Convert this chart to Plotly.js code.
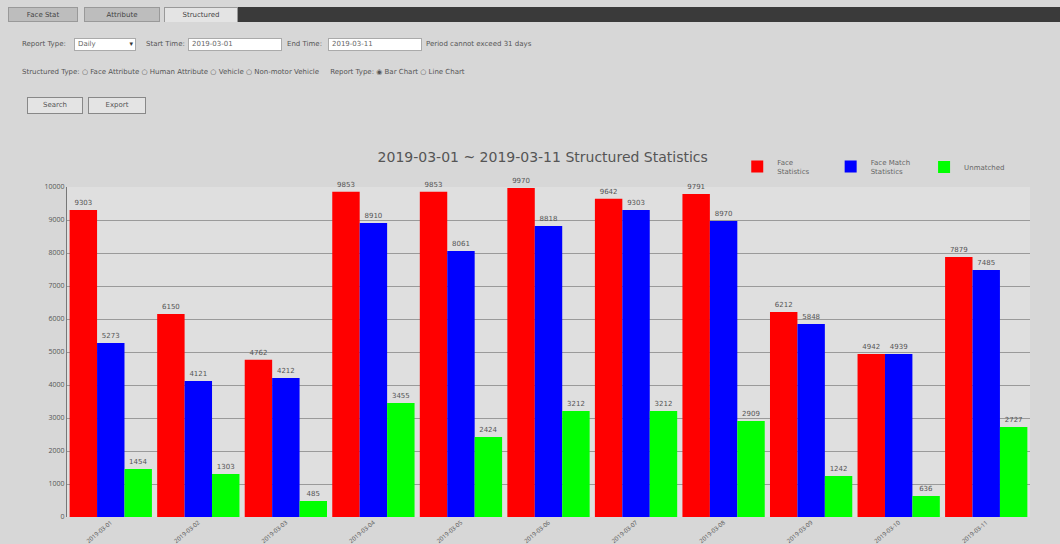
<!DOCTYPE html>
<html><head><meta charset="utf-8">
<script src="https://cdn.plot.ly/plotly-3.0.1.min.js"></script>
<style>
html,body{margin:0;padding:0;background:#d7d7d7;width:1060px;height:544px;overflow:hidden;font-family:"DejaVu Sans",Arial,sans-serif;}
#chart{position:absolute;left:0;top:0;width:1060px;height:544px;}
.ui{position:absolute;font-size:7px;color:#555;white-space:nowrap;z-index:5;}
.tab{position:absolute;top:7px;height:15px;background:#bdbdbd;border:1px solid #999;font-size:7px;color:#444;text-align:center;line-height:15px;z-index:5;box-sizing:border-box;}
.box{position:absolute;background:#fff;border:1px solid #aaa;height:13px;box-sizing:border-box;font-size:7px;color:#666;line-height:11px;padding-left:3px;z-index:5;}
.btn{position:absolute;top:97px;height:17px;background:#e4e4e4;border:1px solid #888;box-sizing:border-box;font-size:7px;color:#555;text-align:center;line-height:15px;z-index:5;}
</style></head>
<body>
<div id="chart"></div>
<div style="position:absolute;left:238px;top:7px;width:822px;height:15px;background:#3a3a3a;z-index:5"></div>
<div class="tab" style="left:8px;width:70px;">Face Stat</div>
<div class="tab" style="left:84px;width:76px;">Attribute</div>
<div class="tab" style="left:164px;width:74px;background:#e4e4e4;border-bottom:none">Structured</div>
<div class="ui" style="left:22px;top:40px;">Report Type:</div>
<div class="box" style="left:74px;top:38px;width:62px;">Daily<span style="position:absolute;right:2px;top:0;font-size:7px;color:#333">&#9662;</span></div>
<div class="ui" style="left:146px;top:40px;">Start Time:</div>
<div class="box" style="left:188px;top:38px;width:94px;">2019-03-01</div>
<div class="ui" style="left:287px;top:40px;">End Time:</div>
<div class="box" style="left:328px;top:38px;width:94px;">2019-03-11</div>
<div class="ui" style="left:426px;top:40px;">Period cannot exceed 31 days</div>
<div class="ui" style="left:22px;top:68px;">Structured Type: &#9675; Face Attribute &#9675; Human Attribute &#9675; Vehicle &#9675; Non-motor Vehicle &nbsp;&nbsp;&nbsp; Report Type: &#9673; Bar Chart &#9675; Line Chart</div>
<div class="btn" style="left:27px;width:56px;">Search</div>
<div class="btn" style="left:88px;width:58px;">Export</div>
<script>
var categories = ["2019-03-01","2019-03-02","2019-03-03","2019-03-04","2019-03-05","2019-03-06","2019-03-07","2019-03-08","2019-03-09","2019-03-10","2019-03-11"];
var faceStats = [9303, 6150, 4762, 9853, 9853, 9970, 9642, 9791, 6212, 4942, 7879];
var matchStats = [5273, 4121, 4212, 8910, 8061, 8818, 9303, 8970, 5848, 4939, 7485];
var unmatched = [1454, 1303, 485, 3455, 2424, 3212, 3212, 2909, 1242, 636, 2727];
var seriesNames = ["Face<br>Statistics", "Face Match<br>Statistics", "Unmatched"];
var seriesColors = ["#ff0000", "#0000ff", "#00ff00"];
var yTicks = [0,1000,2000,3000,4000,5000,6000,7000,8000,9000,10000];

var allVals = [faceStats, matchStats, unmatched];
var legendIds = ["legend", "legend2", "legend3"];
var traces = allVals.map(function(v,i){
  return {type:"bar", x:categories, y:v, name:seriesNames[i], legend:legendIds[i],
    marker:{color:seriesColors[i], line:{width:0}},
    text:v.map(String), textposition:"outside", cliponaxis:false,
    textfont:{size:7,color:"#555",family:"DejaVu Sans"}};
});
function leg(x){
  return {orientation:"h", x:x, xanchor:"left", y:1.0606, yanchor:"middle", bgcolor:"rgba(0,0,0,0)",
    font:{size:7,color:"#666",family:"DejaVu Sans"}};
}
var layout = {
  width:1060, height:544,
  paper_bgcolor:"#d7d7d7", plot_bgcolor:"#dfdfdf",
  margin:{l:67, r:30, t:187, b:27, pad:0},
  barmode:"group", bargap:0.06, bargroupgap:0,
  showlegend:true,
  title:{text:"2019-03-01 ~ 2019-03-11 Structured Statistics", x:0.512, xanchor:"center", y:0.712, yanchor:"middle",
    font:{size:14,color:"#555",family:"DejaVu Sans"}},
  legend:leg(0.696), legend2:leg(0.793), legend3:leg(0.890),
  xaxis:{type:"category", tickangle:-40, tickfont:{size:6,color:"#555"}, showgrid:false, showline:false, ticks:"", automargin:false},
  yaxis:{range:[0,10000], tickvals:yTicks, ticktext:yTicks.map(String), tickfont:{size:7,color:"#555"},
    showgrid:true, gridcolor:"#9a9a9a", gridwidth:1, showline:true, linecolor:"#777", linewidth:1, zeroline:false, ticks:"", automargin:false}
};
Plotly.newPlot("chart", traces, layout, {staticPlot:true, displayModeBar:false});
</script>
</body></html>
